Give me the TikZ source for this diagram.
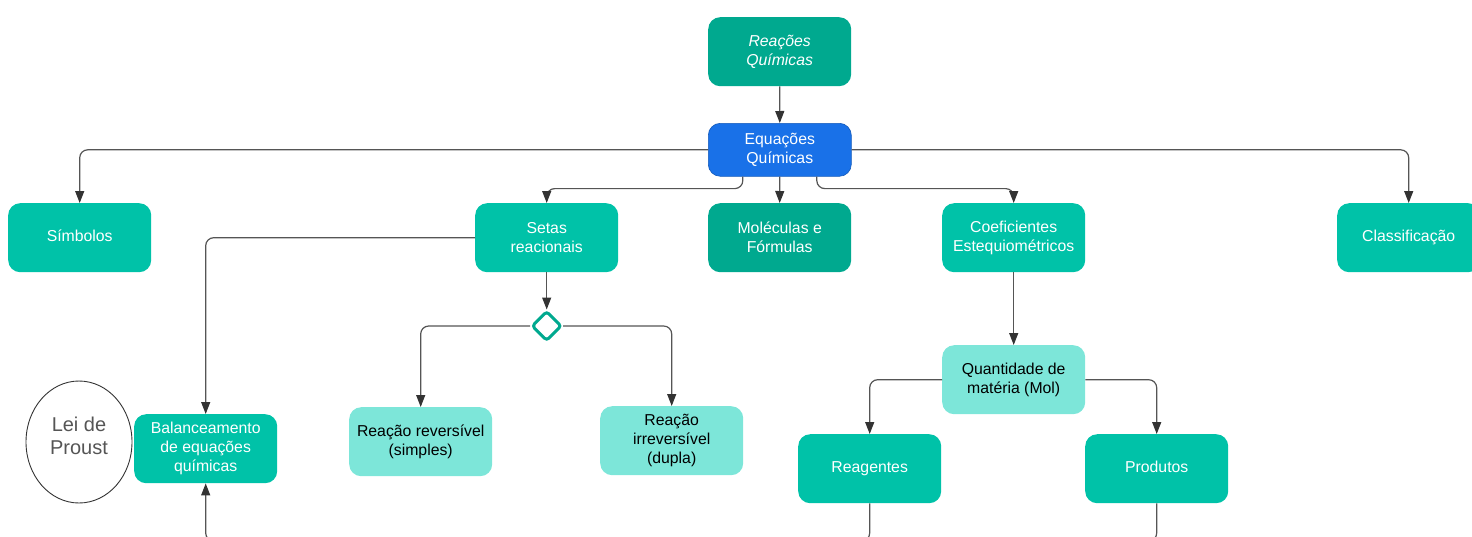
\documentclass[tikz,border=0pt]{standalone}
\usepackage{fontspec}
\setmainfont{Liberation Sans}
\usetikzlibrary{arrows.meta,shapes.geometric}
\definecolor{tealA}{HTML}{00A98F}
\definecolor{tealB}{HTML}{00C2A8}
\definecolor{tealC}{HTML}{7DE6D9}
\definecolor{blueE}{HTML}{1971E8}
\definecolor{lineG}{HTML}{555555}
\definecolor{arrG}{HTML}{333333}
\definecolor{textG}{HTML}{555555}
\begin{document}
\begin{tikzpicture}[x=1pt,y=-1pt,
  box/.style={rectangle,rounded corners=12pt,minimum width=143pt,minimum height=69pt,
    align=center,text=white,font=\fontsize{15.8}{19}\selectfont,inner sep=2pt,
    anchor=north west,fill=tealB},
  darkbox/.style={box,fill=tealA},
  lightbox/.style={box,fill=tealC,text=black},
  bluebox/.style={box,fill=blueE,draw=blueE!80!black,line width=0.6pt,minimum height=53pt},
  conn/.style={draw=lineG,line width=1.2pt,rounded corners=8pt,
    -{Triangle[length=12pt,width=9pt,fill=arrG,color=arrG]}},
  plain/.style={draw=lineG,line width=1.2pt,rounded corners=8pt},
  gate/.style={diamond,draw=tealA,line width=3pt,rounded corners=3pt,fill=white,
    minimum width=30pt,minimum height=30pt,inner sep=0pt},
  lawnode/.style={ellipse,draw=arrG,line width=0.9pt,minimum width=106pt,minimum height=122pt,
    align=center,text=textG,font=\fontsize{20}{23}\selectfont,inner sep=0pt}
]
\useasboundingbox (0,0) rectangle (1472,536);

% nodes
\node[darkbox] (reac) at (708,17) {\itshape Reações\\\itshape Químicas};
\node[bluebox] (eq) at (708,123) {Equações\\Químicas};
\node[box] (sym) at (8,203) {Símbolos\vphantom{g}};
\node[box] (setas) at (475,203) {Setas\\reacionais};
\node[darkbox] (mol) at (708,203) {Moléculas e\\Fórmulas};
\node[box] (coef) at (942,203) {Coeficientes\\Estequiométricos};
\node[box] (class) at (1337,203) {Classificação};
\node[gate] (gate) at (setas.south |- 0,326) {};
\node[lawnode] (lei) at (79,442) {Lei de\\Proust\\[-10pt]\mbox{}};
\node[box] (bal) at (134,414) {Balanceamento\\de equações\\químicas};
\node[lightbox] (rev) at (349,407) {Reação reversível\\(simples)};
\node[lightbox] (irr) at (600,406) {Reação\\irreversível\\(dupla)};
\node[lightbox] (qtd) at (942,345) {Quantidade de\\matéria (Mol)};
\node[box] (reag) at (798,434) {Reagentes};
\node[box] (prod) at (1085,434) {Produtos\vphantom{g}};

% free ends below the picture
\coordinate (reagEnd) at (845,541);
\coordinate (prodEnd) at (1133,541);
\coordinate (balStart) at (230,541);

% connectors
\draw[conn] (reac.south) -- (eq.north);
\draw[conn] (eq.west) -| (sym.north);
\draw[conn] (eq.east) -| (class.north);
\draw[conn] ([xshift=-37pt]eq.south) -- ++(0,12) -| (setas.north);
\draw[conn] (eq.south) -- (mol.north);
\draw[conn] ([xshift=37pt]eq.south) -- ++(0,12) -| (coef.north);
\draw[conn] (setas.west) -| (bal.north);
\draw[conn] (setas.south) -- (gate.north);
\draw[conn] (gate.west) -| (rev.north);
\draw[conn] (gate.east) -| (irr.north);
\draw[conn] (coef.south) -- (qtd.north);
\draw[conn] (qtd.west) -| (reag.north);
\draw[conn] (qtd.east) -| (prod.north);
\draw[plain] (reag.south) |- (reagEnd);
\draw[plain] (prod.south) |- (prodEnd);
\draw[conn] (balStart) -| (bal.south);
\end{tikzpicture}
\end{document}
